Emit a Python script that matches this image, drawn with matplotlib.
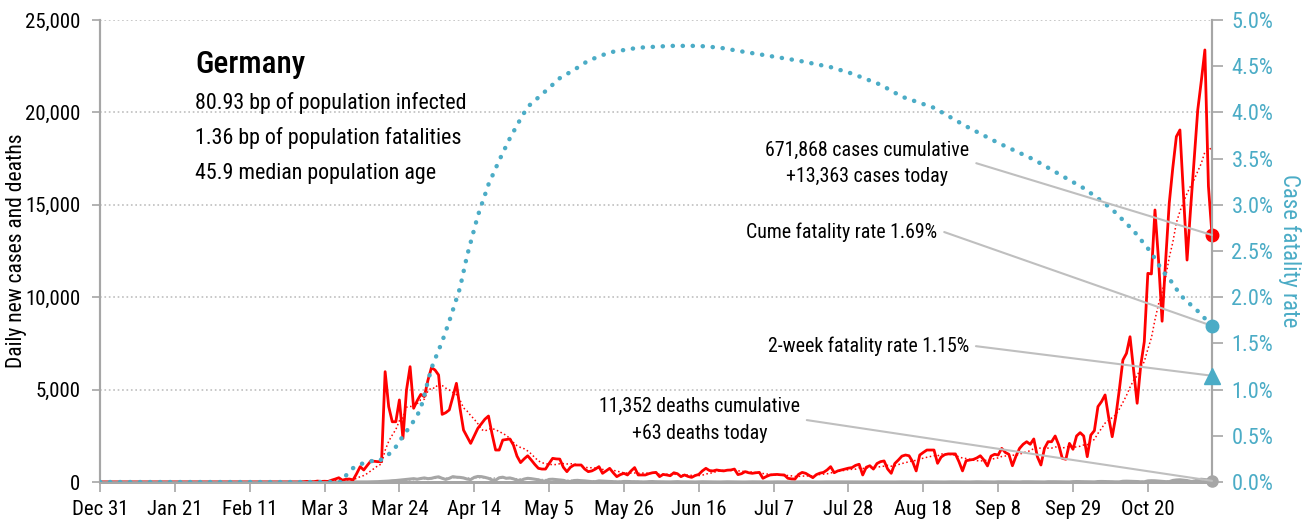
import matplotlib.pyplot as plt
import numpy as np
import pandas as pd
from matplotlib import font_manager

# daily new cases, one row per week, starting Dec 31
cases = [
    0, 0, 0, 0, 0, 0, 0,
    0, 0, 0, 0, 0, 0, 0,
    0, 0, 0, 0, 0, 0, 0,
    0, 0, 0, 0, 0, 0, 0,
    4, 0, 1, 3, 1, 0, 0,
    2, 1, 0, 0, 0, 0, 0,
    0, 0, 0, 0, 0, 0, 0,
    0, 0, 0, 0, 0, 0, 0,
    0, 10, 30, 10, 15, 50, 30,
    40, 30, 100, 160, 230, 100, 150,
    160, 110, 450, 830, 650, 900, 1140,
    1120, 1100, 1100, 5970, 4080, 3260, 3260,
    4440, 2360, 4980, 6240, 3990, 4400, 4740,
    4620, 5500, 6190, 6060, 5790, 3660, 3750,
    3900, 4600, 5340, 4000, 2810, 2450, 2090,
    2500, 2900, 3150, 3400, 3570, 2600, 1730,
    1730, 2270, 2300, 2330, 2000, 1400, 1050,
    1250, 1420, 1190, 950, 740, 700, 700,
    1000, 1280, 1250, 1240, 800, 560, 800,
    920, 920, 920, 700, 560, 600, 700,
    830, 470, 600, 740, 500, 290, 400,
    470, 380, 600, 780, 380, 380, 380,
    450, 500, 520, 290, 410, 380, 340,
    500, 450, 290, 380, 300, 250, 350,
    410, 600, 740, 620, 600, 650, 620,
    600, 640, 650, 700, 400, 450, 560,
    500, 470, 500, 520, 200, 300, 380,
    400, 410, 390, 380, 200, 170, 160,
    410, 520, 470, 350, 235, 400, 480,
    520, 650, 830, 500, 600, 650, 700,
    750, 780, 900, 960, 380, 800, 880,
    700, 1000, 1100, 1140, 700, 470, 1000,
    1190, 1400, 1460, 1420, 1100, 600, 1460,
    1600, 1730, 1730, 1730, 1010, 1350, 1480,
    1520, 1520, 1520, 1100, 600, 1150, 1190,
    1220, 1300, 1420, 1190, 870, 1400, 1500,
    1460, 1820, 1600, 1500, 880, 1400, 1820,
    2040, 2180, 2040, 2330, 1370, 920, 1820,
    2180, 2180, 2490, 2000, 1280, 1230, 2090,
    1770, 2490, 2670, 2490, 1370, 2540, 2780,
    4080, 4350, 4710, 3500, 2450, 3540, 5000,
    6600, 6960, 7860, 6060, 4260, 6300, 7590,
    11290, 11260, 14720, 12000, 8700, 12000, 15080,
    17000, 18690, 19050, 15500, 12010, 14800, 17500,
    20130, 21700, 23380, 16000, 13363,
]

# daily deaths, same layout
deaths = [
    0, 0, 0, 0, 0, 0, 0,
    0, 0, 0, 0, 0, 0, 0,
    0, 0, 0, 0, 0, 0, 0,
    0, 0, 0, 0, 0, 0, 0,
    0, 0, 0, 0, 0, 0, 0,
    0, 0, 0, 0, 0, 0, 0,
    0, 0, 0, 0, 0, 0, 0,
    0, 0, 0, 0, 0, 0, 0,
    0, 0, 0, 0, 0, 0, 0,
    0, 0, 0, 0, 0, 0, 2,
    0, 1, 3, 2, 4, 5, 8,
    12, 20, 30, 40, 50, 70, 80,
    100, 120, 140, 160, 180, 150, 190,
    220, 180, 200, 250, 280, 200, 140,
    200, 290, 260, 250, 220, 160, 130,
    250, 300, 290, 250, 200, 110, 100,
    230, 260, 200, 220, 170, 100, 80,
    160, 200, 180, 150, 120, 60, 50,
    140, 150, 130, 110, 90, 30, 30,
    80, 90, 70, 60, 40, 20, 20,
    60, 50, 40, 30, 20, 10, 10,
    30, 30, 20, 20, 15, 5, 5,
    20, 25, 15, 15, 10, 5, 5,
    15, 20, 10, 10, 8, 3, 3,
    12, 15, 10, 8, 6, 2, 2,
    10, 12, 8, 6, 5, 1, 1,
    8, 10, 6, 5, 4, 1, 1,
    6, 8, 6, 5, 4, 1, 1,
    6, 7, 5, 4, 3, 1, 1,
    5, 6, 5, 4, 3, 1, 1,
    6, 7, 5, 4, 3, 1, 1,
    5, 6, 5, 4, 3, 1, 1,
    6, 7, 6, 5, 4, 1, 1,
    8, 9, 7, 6, 4, 1, 1,
    8, 10, 8, 6, 5, 2, 2,
    10, 12, 10, 8, 6, 2, 2,
    12, 14, 12, 9, 7, 3, 3,
    14, 16, 13, 10, 8, 3, 3,
    16, 18, 15, 12, 10, 4, 4,
    20, 24, 20, 16, 12, 6, 6,
    25, 30, 27, 22, 15, 8, 8,
    40, 45, 40, 35, 25, 10, 12,
    60, 70, 65, 50, 40, 20, 20,
    85, 110, 120, 100, 80, 30, 40,
    120, 150, 130, 110, 63,
]

# cumulative case fatality rate (%), read at these day numbers
cfr_days = [0, 14, 28, 42, 56, 66, 68, 69, 71, 73, 75, 77, 78, 80, 82, 83, 84, 86,
            87, 88, 89, 90, 91, 92, 93, 94, 96, 98, 101, 103, 106, 109, 112, 115,
            118, 120, 125, 129, 133, 137, 143, 151, 160, 168, 174, 180, 188, 196,
            205, 211, 219, 225, 234, 243, 252, 262, 271, 276, 280, 284, 290, 295,
            298, 301, 303, 305, 307, 309, 312]
cfr_pct = [0, 0, 0, 0, 0, 0, 0, 0.07, 0.15, 0.19, 0.22, 0.23, 0.22, 0.27, 0.33, 0.38,
           0.44, 0.55, 0.60, 0.66, 0.72, 0.80, 0.94, 1.09, 1.23, 1.33, 1.52, 1.74,
           2.10, 2.45, 2.88, 3.22, 3.48, 3.72, 3.93, 4.06, 4.23, 4.37, 4.46, 4.56,
           4.65, 4.70, 4.72, 4.72, 4.70, 4.66, 4.61, 4.56, 4.49, 4.42, 4.30, 4.17,
           4.05, 3.85, 3.67, 3.49, 3.29, 3.18, 3.07, 2.95, 2.72, 2.48, 2.29, 2.15,
           2.03, 1.95, 1.89, 1.81, 1.69]
two_week_cfr = 1.15

country = 'Germany'
facts = ['80.93 bp of population infected',
         '1.36 bp of population fatalities',
         '45.9 median population age']

RED = '#ff0000'
BLUE = '#4bacc6'
GREY = '#a6a6a6'
LIGHT = '#bfbfbf'

# pick a condensed face if one is installed, otherwise a plain Arial-like one
fonts = font_manager.fontManager.ttflist
names = {f.name for f in fonts}
scale = 0.84
family = 'Liberation Sans'
stretch = 'normal'
for cand in ['Roboto Condensed', 'Liberation Sans Narrow', 'Open Sans Condensed',
             'Noto Sans Condensed']:
    if cand in names:
        family, scale = cand, 1.0
        break
else:
    if any(f.name == 'DejaVu Sans' and f.stretch == 'condensed' for f in fonts):
        family, stretch, scale = 'DejaVu Sans', 'condensed', 0.86
plt.rcParams['font.family'] = [family, 'DejaVu Sans']
plt.rcParams['font.stretch'] = stretch


def fs(size):
    return size * scale


days = np.arange(len(cases))
dates = pd.date_range('2019-12-31', periods=len(cases))
cases_trend = pd.Series(cases).rolling(7, min_periods=1).mean()
deaths_trend = pd.Series(deaths).rolling(7, min_periods=1).mean()

fig = plt.figure(figsize=(13.12, 5.23), dpi=100)
ax = fig.add_axes([100 / 1312, 41 / 523, 1112 / 1312, 462 / 523])
ax2 = ax.twinx()

ax.plot(days, deaths, color=GREY, lw=2.2, zorder=2)
ax.plot(days, deaths_trend, color=GREY, lw=1, ls=':', zorder=2)
ax.plot(days, cases, color=RED, lw=2, zorder=3)
ax.plot(days, cases_trend, color=RED, lw=1.1, ls=':', zorder=3)
ax2.plot(cfr_days, cfr_pct, color=BLUE, lw=3.2, ls=(0, (0.05, 2.2)),
         dash_capstyle='round', zorder=3)

ax.set_xlim(0, days[-1])
ax.set_ylim(0, 25000)
ax2.set_ylim(0, 5)

ax.set_xticks(days[::21])
ax.set_xticklabels([d.strftime('%b ') + str(d.day) for d in dates[::21]], fontsize=fs(15))
ax.set_yticks(np.arange(0, 25001, 5000))
ax.set_yticklabels([f'{v:,}' for v in range(0, 25001, 5000)], fontsize=fs(15))
ax2.set_yticks(np.arange(0, 5.01, 0.5))
ax2.set_yticklabels([f'{v:.1f}%' for v in np.arange(0, 5.01, 0.5)], fontsize=fs(16),
                    color=BLUE)

ax.tick_params(axis='x', length=7, width=1.2, color=GREY, pad=6)
ax.tick_params(axis='y', length=6, width=1.2, color=GREY, pad=8)
ax2.tick_params(axis='y', length=8, width=1.2, color=GREY, pad=6)

ax.yaxis.grid(True, ls=':', color=LIGHT, lw=1.2)
ax.set_axisbelow(True)

for a in (ax, ax2):
    a.spines['top'].set_visible(False)
    for side in ('left', 'right', 'bottom'):
        a.spines[side].set_color(GREY)
    a.spines['left'].set_linewidth(1.5)
    a.spines['right'].set_linewidth(1.5)
    a.spines['bottom'].set_linewidth(2)

ax.set_ylabel('Daily new cases and deaths', fontsize=fs(15.5))
ax.yaxis.set_label_coords(-0.066, 0.5)
ax2.set_ylabel('Case fatality rate', fontsize=fs(16.5), color=BLUE, rotation=270,
               labelpad=20)

# end markers
ax.plot(days[-1], cases[-1], 'o', color=RED, ms=9, clip_on=False, zorder=6)
ax.plot(days[-1], deaths[-1], 'o', color=GREY, ms=8, clip_on=False, zorder=6)
ax2.plot(cfr_days[-1], cfr_pct[-1], 'o', color=BLUE, ms=9, clip_on=False, zorder=6)
ax2.plot(days[-1], two_week_cfr, '^', color=BLUE, ms=11, clip_on=False, zorder=6)

# country box
ax2.text(0.0854, 0.9026, country, transform=ax.transAxes, fontsize=fs(22.5),
         va='center', fontweight='medium')
for i, line in enumerate(facts):
    ax2.text(0.0854, 0.820 - i * 0.0757, line, transform=ax.transAxes,
             fontsize=fs(15.8), va='center')

conn = dict(arrowstyle='-', color=LIGHT, lw=1.5, relpos=(1, 0.5), shrinkA=3, shrinkB=0,
            connectionstyle='arc,angleA=0,armA=7,angleB=0,armB=0,rad=0')
note = fs(14.3)
ax2.annotate(f'{671868:,} cases cumulative\n+{cases[-1]:,} cases today',
             xy=(days[-1], cases[-1]), xycoords=ax.transData,
             xytext=(0.690, 0.690), textcoords='axes fraction',
             ha='center', va='center', fontsize=note, linespacing=1.5,
             arrowprops=conn, zorder=5)
ax2.annotate(f'Cume fatality rate {cfr_pct[-1]:.2f}%',
             xy=(cfr_days[-1], cfr_pct[-1]), xycoords='data',
             xytext=(0.667, 0.541), textcoords='axes fraction',
             ha='center', va='center', fontsize=note, arrowprops=conn, zorder=5)
ax2.annotate(f'2-week fatality rate {two_week_cfr:.2f}%',
             xy=(days[-1], two_week_cfr), xycoords='data',
             xytext=(0.691, 0.294), textcoords='axes fraction',
             ha='center', va='center', fontsize=note, arrowprops=conn, zorder=5)
ax2.annotate(f'{11352:,} deaths cumulative\n+{deaths[-1]} deaths today',
             xy=(days[-1], deaths[-1]), xycoords=ax.transData,
             xytext=(0.539, 0.134), textcoords='axes fraction',
             ha='center', va='center', fontsize=note, linespacing=1.5,
             arrowprops=conn, zorder=5)

fig.savefig('out.png', dpi=100)
